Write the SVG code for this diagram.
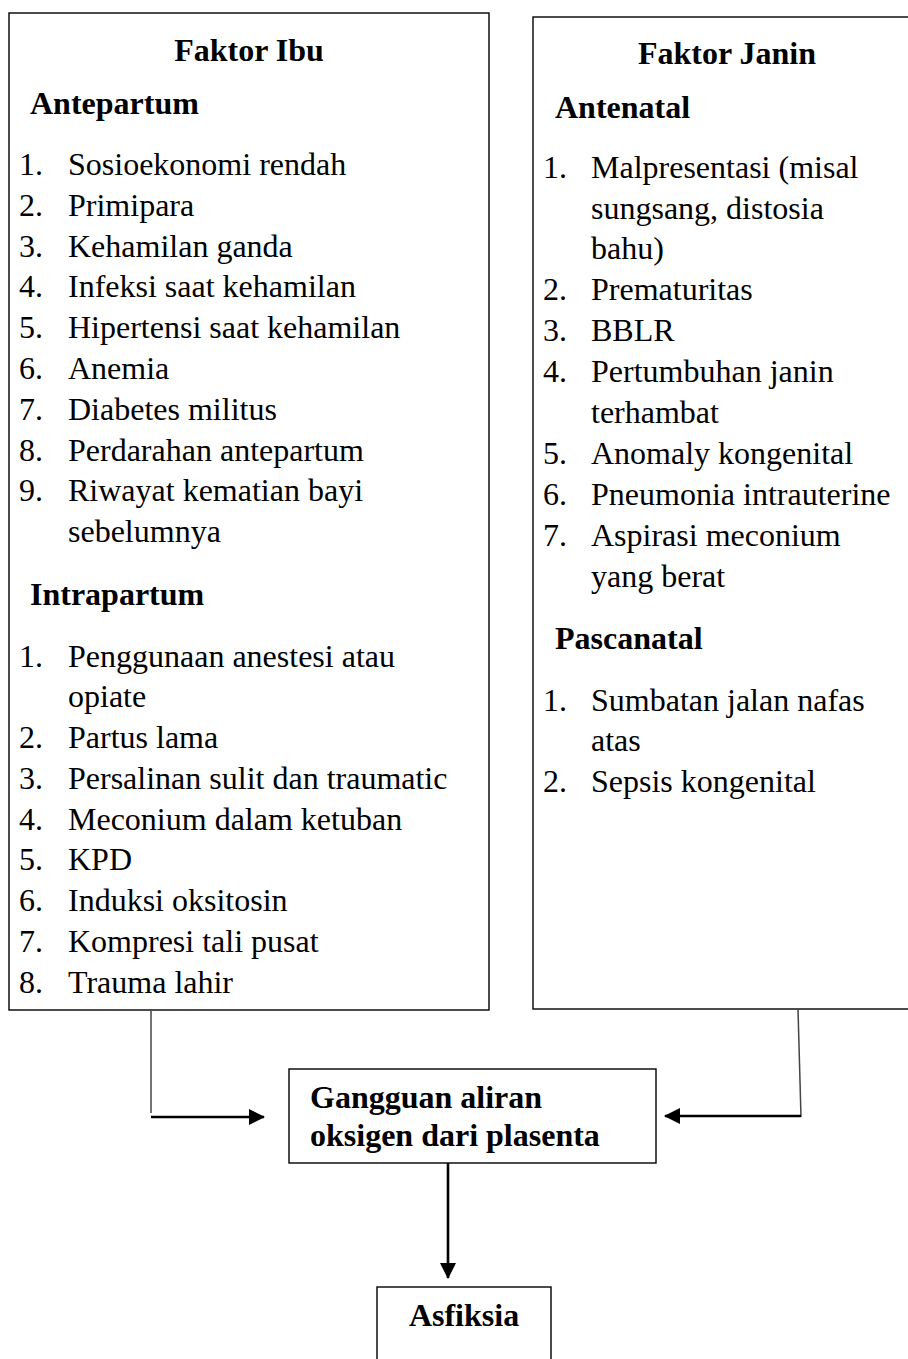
<svg xmlns="http://www.w3.org/2000/svg" width="908" height="1359" viewBox="0 0 908 1359">
<style>
.box{fill:#fff;stroke:#000;stroke-width:1.4}
text{font-family:"Liberation Serif","Times New Roman",serif;font-size:32px;fill:#000}
.b{font-weight:bold}
.thin{stroke:#444;stroke-width:1.5;fill:none}
.thick{stroke:#000;stroke-width:2.6;fill:none}
</style>
<defs>
<marker id="ah" markerUnits="userSpaceOnUse" markerWidth="16" markerHeight="16" refX="15" refY="8" orient="auto" viewBox="0 0 16 16">
<path d="M0,0 L16,8 L0,16 z" fill="#000"/>
</marker>
</defs>
<rect width="908" height="1359" fill="#fff"/>
<g id="faktor-ibu">
<rect class="box" x="9" y="13" width="480" height="997"/>
<text class="b" x="249" y="61" text-anchor="middle">Faktor Ibu</text>
<text class="b" x="30" y="114">Antepartum</text>
<text x="19" y="175">1.</text><text x="68" y="175">Sosioekonomi rendah</text>
<text x="19" y="216">2.</text><text x="68" y="216">Primipara</text>
<text x="19" y="257">3.</text><text x="68" y="257">Kehamilan ganda</text>
<text x="19" y="297">4.</text><text x="68" y="297">Infeksi saat kehamilan</text>
<text x="19" y="338">5.</text><text x="68" y="338">Hipertensi saat kehamilan</text>
<text x="19" y="379">6.</text><text x="68" y="379">Anemia</text>
<text x="19" y="420">7.</text><text x="68" y="420">Diabetes militus</text>
<text x="19" y="461">8.</text><text x="68" y="461">Perdarahan antepartum</text>
<text x="19" y="501">9.</text><text x="68" y="501">Riwayat kematian bayi</text>
<text x="68" y="542">sebelumnya</text>
<text class="b" x="30" y="605">Intrapartum</text>
<text x="19" y="667">1.</text><text x="68" y="667">Penggunaan anestesi atau</text>
<text x="68" y="707">opiate</text>
<text x="19" y="748">2.</text><text x="68" y="748">Partus lama</text>
<text x="19" y="789">3.</text><text x="68" y="789">Persalinan sulit dan traumatic</text>
<text x="19" y="830">4.</text><text x="68" y="830">Meconium dalam ketuban</text>
<text x="19" y="870">5.</text><text x="68" y="870">KPD</text>
<text x="19" y="911">6.</text><text x="68" y="911">Induksi oksitosin</text>
<text x="19" y="952">7.</text><text x="68" y="952">Kompresi tali pusat</text>
<text x="19" y="993">8.</text><text x="68" y="993">Trauma lahir</text>
</g>
<g id="faktor-janin">
<rect class="box" x="533" y="17" width="400" height="992"/>
<text class="b" x="727" y="64" text-anchor="middle">Faktor Janin</text>
<text class="b" x="555" y="118">Antenatal</text>
<text x="543" y="178">1.</text><text x="591" y="178">Malpresentasi (misal</text>
<text x="591" y="219">sungsang, distosia</text>
<text x="591" y="259">bahu)</text>
<text x="543" y="300">2.</text><text x="591" y="300">Prematuritas</text>
<text x="543" y="341">3.</text><text x="591" y="341">BBLR</text>
<text x="543" y="382">4.</text><text x="591" y="382">Pertumbuhan janin</text>
<text x="591" y="423">terhambat</text>
<text x="543" y="464">5.</text><text x="591" y="464">Anomaly kongenital</text>
<text x="543" y="505">6.</text><text x="591" y="505">Pneumonia intrauterine</text>
<text x="543" y="546">7.</text><text x="591" y="546">Aspirasi meconium</text>
<text x="591" y="587">yang berat</text>
<text class="b" x="555" y="649">Pascanatal</text>
<text x="543" y="711">1.</text><text x="591" y="711">Sumbatan jalan nafas</text>
<text x="591" y="751">atas</text>
<text x="543" y="792">2.</text><text x="591" y="792">Sepsis kongenital</text>
</g>
<g id="gangguan">
<rect class="box" x="289" y="1069" width="367" height="94"/>
<text class="b" x="310" y="1108">Gangguan aliran</text>
<text class="b" x="310" y="1146">oksigen dari plasenta</text>
</g>
<g id="asfiksia">
<rect class="box" x="377" y="1287" width="174" height="90"/>
<text class="b" x="464" y="1326" text-anchor="middle">Asfiksia</text>
</g>
<g id="connectors">
<line class="thin" x1="151" y1="1010" x2="151" y2="1113"/>
<line class="thick" x1="151" y1="1117" x2="264" y2="1117" marker-end="url(#ah)"/>
<line class="thin" x1="798" y1="1009" x2="801" y2="1117"/>
<line class="thick" x1="801" y1="1116" x2="665" y2="1116" marker-end="url(#ah)"/>
<line class="thick" x1="448" y1="1163" x2="448" y2="1278" marker-end="url(#ah)"/>
</g>
</svg>
